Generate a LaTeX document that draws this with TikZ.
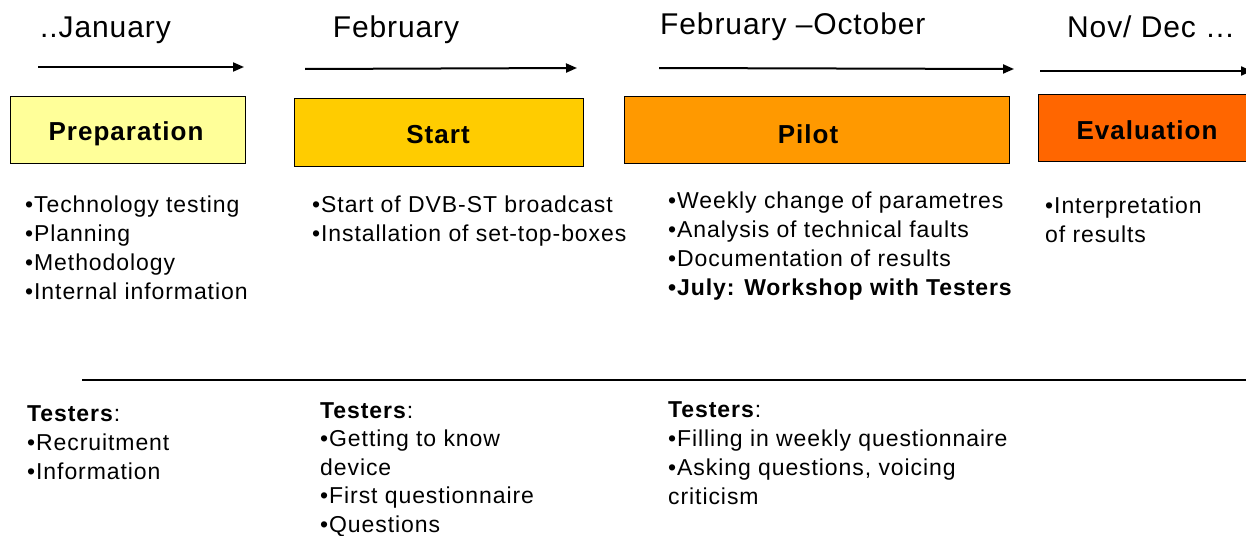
\documentclass[tikz,border=0pt]{standalone}
\usepackage{fontspec}
\setmainfont[LetterSpace=4]{Liberation Sans}
\newfontfamily\monthfont[LetterSpace=3]{Liberation Sans}
\usetikzlibrary{arrows.meta}
\definecolor{prepfill}{HTML}{FFFF99}
\definecolor{startfill}{HTML}{FFCC00}
\definecolor{pilotfill}{HTML}{FF9900}
\definecolor{evalfill}{HTML}{FF6600}
\tikzset{
  phase/.style={draw=black, line width=0.8pt, inner sep=0pt},
  phaselabel/.style={font=\fontsize{26}{30}\selectfont\bfseries},
  month/.style={font=\monthfont\fontsize{30}{34}\selectfont, inner sep=0pt},
  items/.style={font=\fontsize{23}{29}\selectfont, align=left, anchor=north west, inner sep=0pt},
  timearrow/.style={line width=2pt, -{Triangle[length=11pt,width=9pt]}},
}
\begin{document}
\begin{tikzpicture}[x=1pt, y=-1pt]
\useasboundingbox (0,0) rectangle (1246,535);

% month headings
\node[month, anchor=west] (mjan) at (40,30) {..January};
\node[month] (mfeb) at (396,30) {February};
\node[month, anchor=west] (mpilot) at (660,27) {February –October};
\node[month, anchor=west] (mnov) at (1067,27) {Nov/ Dec …};

% time arrows
\coordinate (a1s) at (38,67);   \coordinate (a1e) at (244,67);
\coordinate (a2s) at (305,69);  \coordinate (a2e) at (577,68);
\coordinate (a3s) at (659,68);  \coordinate (a3e) at (1014,69);
\coordinate (a4s) at (1040,71); \coordinate (a4e) at (1252,71);
\draw[timearrow] (a1s) -- (a1e);
\draw[timearrow] (a2s) -- (a2e);
\draw[timearrow] (a3s) -- (a3e);
\begin{scope}
\clip (0,0) rectangle (1246,535);
\draw[timearrow] (a4s) -- (a4e);
\end{scope}

% phase boxes
\draw[phase, fill=prepfill]  (10,96)  rectangle (245,163);
\node[phaselabel] (prep) at (126,134) {Preparation};
\draw[phase, fill=startfill] (294,98) rectangle (583,166);
\node[phaselabel] (start) at (438,135) {Start};
\draw[phase, fill=pilotfill] (624,96) rectangle (1009,163);
\node[phaselabel] (pilot) at (808,134) {Pilot};
\draw[phase, fill=evalfill]  (1038,94) rectangle (1250,161);
\node[phaselabel] (eval) at (1147,130) {Evaluation};

% activities per phase
\node[items] (lprep) at (25,196) {•Technology testing\\•Planning\\•Methodology\\•Internal information};
\node[items] (lstart) at (312,196) {•Start of DVB-ST broadcast\\•Installation of set-top-boxes};
\node[items] (lpilot) at (668,192) {•Weekly change of parametres\\•Analysis of technical faults\\•Documentation of results\\\textbf{•July: Workshop with Testers}};
\node[items] (leval) at (1045,197) {•Interpretation\\of results};

% separator
\coordinate (sepl) at (82,380);
\coordinate (sepr) at (1246,380);
\draw[line width=1.2pt] (sepl) -- (sepr);

% tester activities
\node[items] (tprep) at (27,405) {\textbf{Testers}:\\•Recruitment\\•Information};
\node[items, font=\fontsize{23}{28.6}\selectfont] (tstart) at (320,402) {\textbf{Testers}:\\•Getting to know\\device\\•First questionnaire\\•Questions};
\node[items] (tpilot) at (668,401) {\textbf{Testers}:\\•Filling in weekly questionnaire\\•Asking questions, voicing\\criticism};
\end{tikzpicture}
\end{document}
